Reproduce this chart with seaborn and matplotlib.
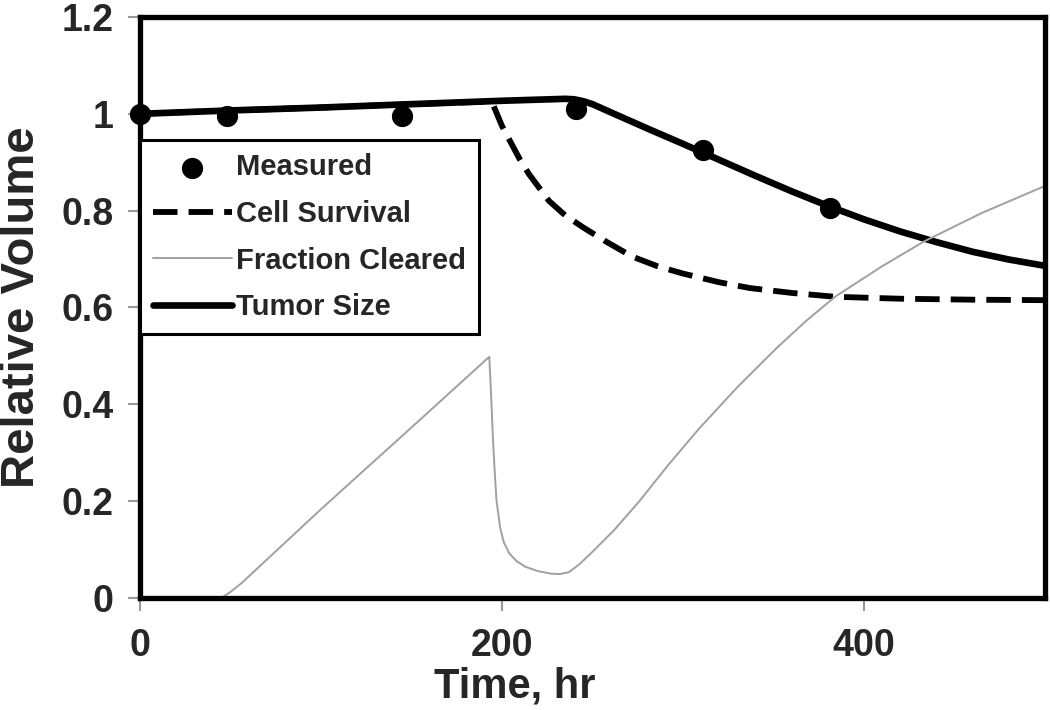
# Curvas de volume relativo do tumor ao longo do tempo
import numpy as np
import pandas as pd
import matplotlib
matplotlib.use("Agg")
import matplotlib.pyplot as plt
import seaborn as sns

# pontos medidos
t_medido = [0, 48, 145, 241, 311, 381]
v_medido = [1.0, 0.995, 0.995, 1.01, 0.925, 0.805]

# sobrevivencia celular (tracejada)
t_cell = [0, 50, 100, 150, 190, 195, 200, 205, 210, 215, 220, 226, 235, 245, 258, 272, 286, 300,
          320, 337, 360, 384, 420, 460, 500]
v_cell = [1.0, 1.007, 1.013, 1.02, 1.025, 1.02, 0.975, 0.94, 0.905, 0.875, 0.85, 0.82, 0.79, 0.765,
          0.735, 0.705, 0.685, 0.67, 0.652, 0.64, 0.63, 0.622, 0.618, 0.616, 0.615]

# fracao removida (cinza)
t_frac = [0, 45, 50, 56, 100, 150, 193, 194, 195, 196, 197, 199, 201, 204, 208, 213, 220, 227, 232,
          237, 243, 250, 262, 276, 292, 309, 330, 352, 368, 384, 410, 433, 465, 500]
v_frac = [0.0, 0.0, 0.012, 0.03, 0.183, 0.352, 0.498, 0.42, 0.33, 0.26, 0.2, 0.145, 0.115, 0.092,
          0.076, 0.064, 0.055, 0.05, 0.049, 0.053, 0.07, 0.095, 0.14, 0.2, 0.275, 0.35, 0.435, 0.517,
          0.572, 0.622, 0.685, 0.736, 0.795, 0.851]

# tamanho do tumor (solida)
t_tumor = [0, 50, 100, 150, 200, 235, 240, 245, 250, 262, 282, 300, 320, 340, 360, 380, 400, 420,
           440, 460, 480, 500]
v_tumor = [1.0, 1.007, 1.013, 1.02, 1.027, 1.031, 1.03, 1.026, 1.02, 1.0, 0.967, 0.938, 0.905,
           0.872, 0.84, 0.81, 0.782, 0.757, 0.735, 0.715, 0.699, 0.686]

y_ticks = [0, 0.2, 0.4, 0.6, 0.8, 1.0, 1.2]
y_labels = ['0', '0.2', '0.4', '0.6', '0.8', '1', '1.2']
x_ticks = [0, 200, 400]
x_labels = ['0', '200', '400']

sns.set_style("white")
plt.rcParams['font.family'] = ['Liberation Sans', 'DejaVu Sans']
plt.rcParams['font.weight'] = 'bold'

fig = plt.figure(figsize=(10.5, 7.1), dpi=100)
ax = fig.add_axes([0.1333, 0.158, 0.8619, 0.818])

sns.lineplot(x=t_tumor, y=v_tumor, ax=ax, color='black', lw=4.8, label='Tumor Size')
sns.lineplot(x=t_cell, y=v_cell, ax=ax, color='black', lw=4.2, linestyle='--', label='Cell Survival')
ax.lines[-1].set_dashes([4.2, 1.9])
sns.lineplot(x=t_frac, y=v_frac, ax=ax, color='#a0a0a0', lw=1.4, label='Fraction Cleared')
sns.scatterplot(x=t_medido, y=v_medido, ax=ax, color='black', s=200, edgecolor='black', zorder=5,
                label='Measured', clip_on=False)

ax.set_xlim(0, 500)
ax.set_ylim(0, 1.2)
ax.set_xticks(x_ticks)
ax.set_xticklabels(x_labels)
ax.set_yticks(y_ticks)
ax.set_yticklabels(y_labels)
ax.tick_params(axis='both', direction='out', length=9, width=1.5, color='#999999',
               labelsize=27, bottom=True, left=True)
ax.tick_params(axis='x', pad=12.5)
ax.tick_params(axis='y', pad=10)
for lab in ax.get_xticklabels() + ax.get_yticklabels():
    lab.set_fontweight('bold')

for s in ax.spines.values():
    s.set_color('black')
    s.set_linewidth(3.8)

ax.set_xlabel('Time, hr', fontsize=30, fontweight='bold')
ax.set_ylabel('Relative Volume', fontsize=34, fontweight='bold')
ax.xaxis.set_label_coords(0.414, -0.118)
ax.yaxis.set_label_coords(-0.106, 0.5)

# legenda na ordem da figura original
h, l = ax.get_legend_handles_labels()
ordem = ['Measured', 'Cell Survival', 'Fraction Cleared', 'Tumor Size']
hh = [h[l.index(o)] for o in ordem]
leg = ax.legend(hh, ordem, loc='upper left', bbox_to_anchor=(0, 0.788), borderaxespad=0,
                fontsize=21, handlelength=2.7, handletextpad=0.15, labelspacing=0.64,
                borderpad=0.45, fancybox=False, framealpha=1, edgecolor='black')
leg.get_frame().set_linewidth(2.2)
for txt in leg.get_texts():
    txt.set_fontweight('bold')

plt.savefig('out.png', dpi=100)
